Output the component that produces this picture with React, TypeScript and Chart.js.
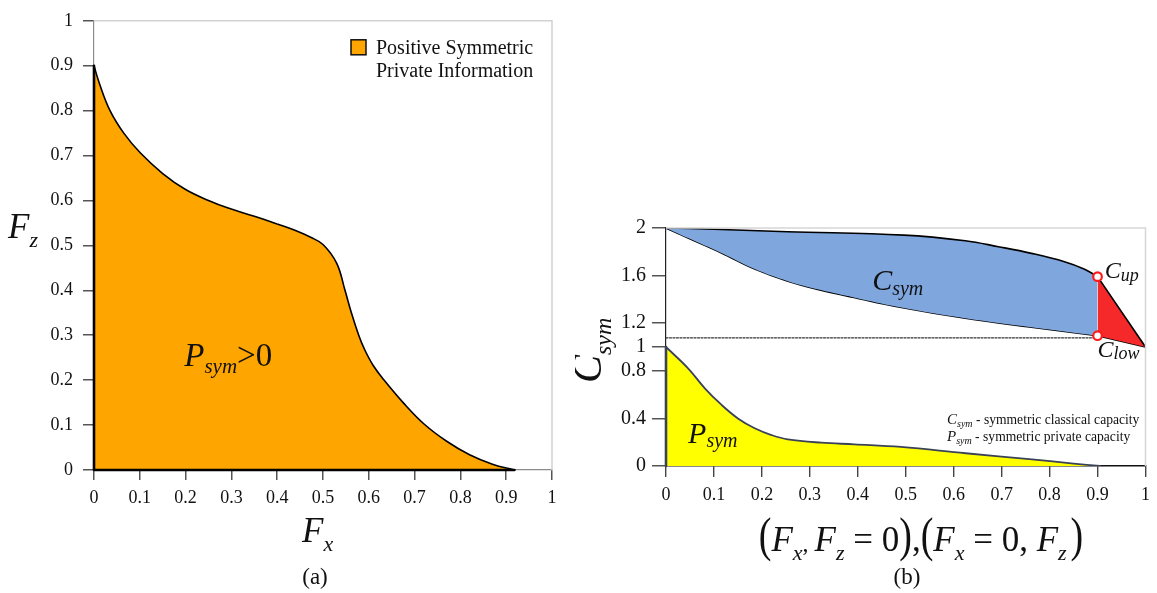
import React, { useEffect, useRef } from "react";
import { Chart, registerables } from "chart.js";

Chart.register(...registerables);

const SERIF = "'Liberation Serif', 'Times New Roman', Times, serif";

// ---------------- Panel (a) data ----------------
const fxA = [0, 0.012, 0.035, 0.065, 0.102, 0.15, 0.199, 0.25, 0.293, 0.35, 0.402, 0.44, 0.473, 0.5, 0.53, 0.548, 0.562, 0.578, 0.59, 0.61, 0.635, 0.675, 0.72, 0.77, 0.82, 0.87, 0.918];
const fzA = [0.9, 0.86, 0.8, 0.75, 0.705, 0.66, 0.625, 0.6, 0.583, 0.565, 0.547, 0.533, 0.518, 0.502, 0.46, 0.4, 0.35, 0.3, 0.27, 0.232, 0.198, 0.15, 0.103, 0.064, 0.034, 0.013, 0];
const ticksA = [0, 0.1, 0.2, 0.3, 0.4, 0.5, 0.6, 0.7, 0.8, 0.9, 1];
const tickLabelsA = ["0", "0.1", "0.2", "0.3", "0.4", "0.5", "0.6", "0.7", "0.8", "0.9", "1"];
const legendA = ["Positive Symmetric", "Private Information"];

// ---------------- Panel (b) data ----------------
const xUpper = [0, 0.1, 0.254, 0.496, 0.624, 0.693, 0.762, 0.831, 0.873, 0.9];
const cUpper = [2, 1.99, 1.969, 1.94, 1.893, 1.843, 1.787, 1.717, 1.654, 1.591];
const xLower = [0, 0.046, 0.1155, 0.185, 0.254, 0.323, 0.392, 0.485, 0.624, 0.762, 0.9];
const cLower = [2, 1.915, 1.79, 1.655, 1.553, 1.478, 1.416, 1.336, 1.241, 1.166, 1.095];
const xRed = [0.9, 1];
const redUpper = [1.591, 1];
const redLower = [1.095, 1];
const xDotted = [0, 0.9];
const yDotted = [1.077, 1.077];
const xMarks = [0.9, 0.9];
const yMarks = [1.591, 1.095];
const xPsym = [0, 0.046, 0.081, 0.116, 0.15, 0.185, 0.22, 0.254, 0.324, 0.393, 0.49, 0.625, 0.763, 0.85, 0.905];
const pSym = [1, 0.821, 0.653, 0.513, 0.4, 0.317, 0.26, 0.224, 0.196, 0.182, 0.16, 0.107, 0.056, 0.02, 0];
const ticksBx = [0, 0.1, 0.2, 0.3, 0.4, 0.5, 0.6, 0.7, 0.8, 0.9, 1];
const tickLabelsBx = ["0", "0.1", "0.2", "0.3", "0.4", "0.5", "0.6", "0.7", "0.8", "0.9", "1"];
const ticksBy = [0, 0.4, 0.8, 1, 1.2, 1.6, 2];
const tickLabelsBy = ["0", "0.4", "0.8", "1", "1.2", "1.6", "2"];
const legendB = [
  ["C", "sym", " - symmetric classical capacity"],
  ["P", "sym", " - symmetric private capacity"],
];

const pts = (xs: number[], ys: number[]) => xs.map((x, i) => ({ x, y: ys[i] }));

type Part = { t: string; font: string; dy?: number; sy?: number };
function partsWidth(ctx: CanvasRenderingContext2D, parts: Part[]) {
  let w = 0;
  for (const p of parts) {
    ctx.font = p.font;
    w += ctx.measureText(p.t).width;
  }
  return w;
}
function drawParts(ctx: CanvasRenderingContext2D, x: number, y: number, parts: Part[]) {
  let cx = x;
  ctx.textAlign = "left";
  ctx.textBaseline = "alphabetic";
  for (const p of parts) {
    ctx.font = p.font;
    if (p.sy) {
      ctx.save();
      ctx.translate(cx, y + (p.dy || 0));
      ctx.scale(1, p.sy);
      ctx.fillText(p.t, 0, 0);
      ctx.restore();
    } else {
      ctx.fillText(p.t, cx, y + (p.dy || 0));
    }
    cx += ctx.measureText(p.t).width;
  }
  return cx;
}
const it = (s: number) => `italic ${s}px ${SERIF}`;
const rm = (s: number) => `${s}px ${SERIF}`;

const lineDefaults = {
  pointRadius: 0,
  pointHoverRadius: 0,
  borderCapStyle: "round" as const,
  borderJoinStyle: "round" as const,
};

const decorA = {
  id: "decorA",
  afterDraw(chart: any) {
    const { ctx, chartArea: a } = chart;
    const xs = chart.scales.x;
    const ys = chart.scales.y;
    ctx.save();
    ctx.strokeStyle = "#d2d2d2";
    ctx.lineWidth = 1.5;
    ctx.beginPath();
    ctx.moveTo(a.left, a.top);
    ctx.lineTo(a.right, a.top);
    ctx.lineTo(a.right, a.bottom);
    ctx.stroke();
    // legend
    ctx.fillStyle = "#ffa500";
    ctx.fillRect(a.right - 201, a.top + 19, 15, 15);
    ctx.strokeStyle = "#111";
    ctx.lineWidth = 1.5;
    ctx.strokeRect(a.right - 201, a.top + 19, 15, 15);
    ctx.fillStyle = "#111";
    ctx.font = rm(20);
    ctx.textAlign = "left";
    ctx.fillText(legendA[0], a.right - 176, a.top + 33);
    ctx.fillText(legendA[1], a.right - 176, a.top + 56);
    // P_sym > 0 label
    drawParts(ctx, xs.getPixelForValue(0.197), ys.getPixelForValue(0.231), [
      { t: "P", font: it(33) },
      { t: "sym", font: it(21), dy: 7 },
      { t: ">0", font: rm(33) },
    ]);
    // axis titles
    drawParts(ctx, 8, 238, [
      { t: "F", font: it(35) },
      { t: "z", font: it(22), dy: 9 },
    ]);
    drawParts(ctx, 302, 542, [
      { t: "F", font: it(35) },
      { t: "x", font: it(22), dy: 9 },
    ]);
    ctx.font = rm(23);
    ctx.textAlign = "center";
    ctx.fillText("(a)", 315, 584);
    ctx.restore();
  },
};

const OX = 575; // left offset of panel (b) canvas

const decorB = {
  id: "decorB",
  afterDraw(chart: any) {
    const { ctx, chartArea: a } = chart;
    const xs = chart.scales.x;
    const ys = chart.scales.y;
    ctx.save();
    ctx.strokeStyle = "#d6d6d6";
    ctx.lineWidth = 1.5;
    ctx.beginPath();
    ctx.moveTo(a.left, a.top);
    ctx.lineTo(a.right, a.top);
    ctx.lineTo(a.right, a.bottom);
    ctx.stroke();
    ctx.fillStyle = "#111";
    drawParts(ctx, xs.getPixelForValue(0.43), ys.getPixelForValue(1.48), [
      { t: "C", font: it(30) },
      { t: "sym", font: it(20), dy: 5 },
    ]);
    drawParts(ctx, xs.getPixelForValue(0.915), ys.getPixelForValue(1.59) + 1, [
      { t: "C", font: it(24) },
      { t: "up", font: it(18), dy: 3 },
    ]);
    drawParts(ctx, xs.getPixelForValue(0.9), ys.getPixelForValue(0.918), [
      { t: "C", font: it(24) },
      { t: "low", font: it(18), dy: 2 },
    ]);
    drawParts(ctx, xs.getPixelForValue(0.046), ys.getPixelForValue(0.193), [
      { t: "P", font: it(30) },
      { t: "sym", font: it(20), dy: 4 },
    ]);
    const lx = 947 - OX;
    legendB.forEach((row, i) => {
      drawParts(ctx, lx, 424 + i * 17, [
        { t: row[0], font: it(15) },
        { t: row[1], font: it(10), dy: 3 },
        { t: row[2], font: rm(13.6) },
      ]);
    });
    ctx.save();
    ctx.translate(601 - OX, 383);
    ctx.rotate(-Math.PI / 2);
    drawParts(ctx, 0, 0, [
      { t: "C", font: it(42) },
      { t: "sym", font: it(24), dy: 10 },
    ]);
    ctx.restore();
    const P = rm(38);
    const F = it(35);
    const S = it(22);
    const R = rm(35);
    const title: Part[] = [
      { t: "(", font: P, sy: 1.27 },
      { t: "F", font: F },
      { t: "x", font: S, dy: 9 },
      { t: ", ", font: rm(24) },
      { t: "F", font: F },
      { t: "z", font: S, dy: 9 },
      { t: " = 0", font: R },
      { t: ")", font: P, sy: 1.27 },
      { t: ",", font: R },
      { t: "(", font: P, sy: 1.27 },
      { t: "F", font: F },
      { t: "x", font: S, dy: 9 },
      { t: " = 0, ", font: R },
      { t: "F", font: F },
      { t: "z", font: S, dy: 9 },
      { t: " ", font: rm(16) },
      { t: ")", font: P, sy: 1.27 },
    ];
    const w = partsWidth(ctx, title);
    drawParts(ctx, 921 - OX - w / 2, 551, title);
    ctx.font = rm(23);
    ctx.textAlign = "center";
    ctx.fillText("(b)", 907 - OX, 584);
    ctx.restore();
  },
};

export default function App() {
  const refA = useRef<HTMLCanvasElement | null>(null);
  const refB = useRef<HTMLCanvasElement | null>(null);

  useEffect(() => {
    const chartA = new Chart(refA.current as HTMLCanvasElement, {
      type: "line",
      data: {
        datasets: [
          {
            label: "Positive Symmetric Private Information",
            data: pts(fxA, fzA),
            borderColor: "#000",
            borderWidth: 1.6,
            backgroundColor: "#ffa500",
            fill: "origin",
            tension: 0.4,
            order: 2,
            ...lineDefaults,
          },
          {
            label: "region edge",
            data: [
              { x: fxA[0], y: fzA[0] },
              { x: 0, y: 0 },
              { x: fxA[fxA.length - 1], y: 0 },
            ],
            borderColor: "#000",
            borderWidth: 2.6,
            fill: false,
            tension: 0,
            order: 1,
            clip: 4,
            ...lineDefaults,
          },
        ],
      },
      options: {
        animation: false,
        responsive: false,
        events: [],
        layout: { padding: { top: 13, right: 23, left: 0, bottom: 0 } },
        plugins: { legend: { display: false }, tooltip: { enabled: false } },
        scales: {
          x: {
            type: "linear",
            min: 0,
            max: 1,
            afterBuildTicks: (s: any) => {
              s.ticks = ticksA.map((v) => ({ value: v }));
            },
            afterFit: (s: any) => {
              s.height = 123;
            },
            ticks: {
              autoSkip: false,
              maxRotation: 0,
              padding: 7,
              color: "#111",
              font: { family: SERIF, size: 18 },
              callback: (_v: any, i: number) => tickLabelsA[i],
            },
            grid: { display: true, drawOnChartArea: false, drawTicks: true, tickLength: 10, color: "#555", lineWidth: 1.5 },
            border: { display: true, color: "#8c8c8c", width: 1.2 },
          },
          y: {
            type: "linear",
            min: 0,
            max: 1,
            afterBuildTicks: (s: any) => {
              s.ticks = ticksA.map((v) => ({ value: v }));
            },
            afterFit: (s: any) => {
              s.width = 94;
            },
            ticks: {
              autoSkip: false,
              padding: 10,
              color: "#111",
              font: { family: SERIF, size: 18 },
              callback: (_v: any, i: number) => tickLabelsA[i],
            },
            grid: { display: true, drawOnChartArea: false, drawTicks: true, tickLength: 11, color: "#555", lineWidth: 1.5 },
            border: { display: true, color: "#8c8c8c", width: 1.2 },
          },
        },
      },
      plugins: [decorA],
    } as any);

    const chartB = new Chart(refB.current as HTMLCanvasElement, {
      type: "line",
      data: {
        datasets: [
          {
            label: "Csym upper",
            data: pts(xUpper, cUpper),
            borderColor: "#000",
            borderWidth: 1.6,
            backgroundColor: "#7fa7de",
            fill: { target: 1 },
            tension: 0.4,
            order: 3,
            ...lineDefaults,
          },
          {
            label: "Csym lower",
            data: pts(xLower, cLower),
            borderColor: "#000",
            borderWidth: 1.6,
            fill: false,
            tension: 0.4,
            order: 3,
            ...lineDefaults,
          },
          {
            label: "gap upper",
            data: pts(xRed, redUpper),
            borderColor: "#000",
            borderWidth: 1.6,
            backgroundColor: "#f5282a",
            fill: { target: 3 },
            tension: 0,
            order: 3,
            ...lineDefaults,
          },
          {
            label: "gap lower",
            data: pts(xRed, redLower),
            borderColor: "#000",
            borderWidth: 1.4,
            fill: false,
            tension: 0,
            order: 3,
            ...lineDefaults,
          },
          {
            label: "dotted",
            data: pts(xDotted, yDotted),
            borderColor: "#333",
            borderWidth: 1.3,
            borderDash: [2, 1.5],
            fill: false,
            tension: 0,
            order: 2,
            ...lineDefaults,
          },
          {
            label: "Psym",
            data: pts(xPsym, pSym),
            borderColor: "#3a4257",
            borderWidth: 1.8,
            backgroundColor: "#ffff00",
            fill: "origin",
            tension: 0.4,
            order: 3,
            ...lineDefaults,
          },
          {
            label: "Psym edge",
            data: [
              { x: 0, y: pSym[0] },
              { x: 0, y: 0 },
            ],
            borderColor: "#3a4257",
            borderWidth: 2.6,
            fill: false,
            tension: 0,
            order: 2,
            clip: 4,
            ...lineDefaults,
          },
          {
            label: "Cup Clow",
            data: pts(xMarks, yMarks),
            showLine: false,
            pointRadius: 4.3,
            pointBorderWidth: 2.2,
            pointBorderColor: "#ff1a1a",
            pointBackgroundColor: "#ffffff",
            pointHoverRadius: 4.3,
            order: 0,
          },
        ],
      },
      options: {
        animation: false,
        responsive: false,
        events: [],
        layout: { padding: { top: 228, right: 10, left: 0, bottom: 0 } },
        plugins: { legend: { display: false }, tooltip: { enabled: false } },
        scales: {
          x: {
            type: "linear",
            min: 0,
            max: 1,
            afterBuildTicks: (s: any) => {
              s.ticks = ticksBx.map((v) => ({ value: v }));
            },
            afterFit: (s: any) => {
              s.height = 127;
            },
            ticks: {
              autoSkip: false,
              maxRotation: 0,
              padding: 7,
              color: "#111",
              font: { family: SERIF, size: 18 },
              callback: (_v: any, i: number) => tickLabelsBx[i],
            },
            grid: { display: true, drawOnChartArea: false, drawTicks: true, tickLength: 11, color: "#444", lineWidth: 1.4 },
            border: { display: true, color: "#111", width: 1.6 },
          },
          y: {
            type: "linear",
            min: 0,
            max: 2,
            afterBuildTicks: (s: any) => {
              s.ticks = ticksBy.map((v) => ({ value: v }));
            },
            afterFit: (s: any) => {
              s.width = 91;
            },
            ticks: {
              autoSkip: false,
              padding: 6,
              color: "#111",
              font: { family: SERIF, size: 20 },
              callback: (_v: any, i: number) => tickLabelsBy[i],
            },
            grid: { display: true, drawOnChartArea: false, drawTicks: true, tickLength: 14, color: "#555", lineWidth: 1.5 },
            border: { display: true, color: "#222", width: 1.2 },
          },
        },
      },
      plugins: [decorB],
    } as any);

    return () => {
      chartA.destroy();
      chartB.destroy();
    };
  }, []);

  return (
    <div style={{ position: "absolute", left: 0, top: 0, width: 1157, height: 593, background: "#fff", overflow: "hidden" }}>
      <canvas ref={refA} width={575} height={593} style={{ position: "absolute", left: 0, top: 0, display: "block" }} />
      <canvas ref={refB} width={582} height={593} style={{ position: "absolute", left: OX, top: 0, display: "block" }} />
    </div>
  );
}
